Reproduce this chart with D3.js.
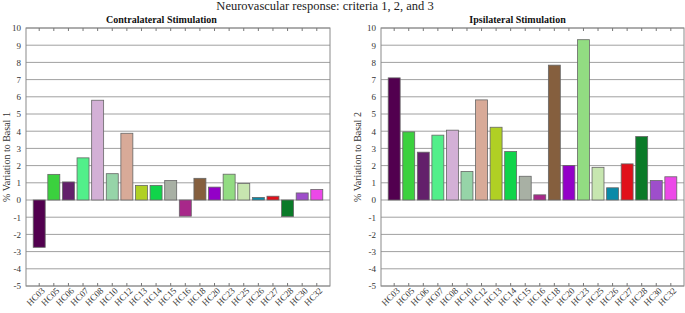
<!DOCTYPE html>
<html>
<head>
<meta charset="utf-8">
<script src="https://cdn.jsdelivr.net/npm/d3@7"></script>
<style>
  body { margin: 0; background: #fff; }
  text { font-family: "Liberation Serif", "Times New Roman", serif; }
</style>
</head>
<body>
<svg width="685" height="313"></svg>
<script>
const svg = d3.select('svg');

// categories and values
const subjects = ['HC03','HC05','HC06','HC07','HC08','HC10','HC12','HC13','HC14','HC15',
                  'HC16','HC18','HC20','HC23','HC25','HC26','HC27','HC28','HC30','HC32'];
const contralateral = [-2.75, 1.49, 1.05, 2.45, 5.8, 1.53, 3.88, 0.85, 0.85, 1.13,
                       -0.94, 1.26, 0.75, 1.5, 0.96, 0.15, 0.22, -0.96, 0.41, 0.61];
const ipsilateral = [7.1, 3.96, 2.78, 3.77, 4.06, 1.66, 5.82, 4.23, 2.82, 1.38,
                     0.3, 7.84, 2.01, 9.32, 1.9, 0.71, 2.1, 3.69, 1.13, 1.35];
const barColors = ['#52004f','#3bd13e','#63206b','#52ef8a','#d3b0d6','#96d4a8','#d8aa98','#b0d024','#10d44a','#a8b0a4',
                   '#a8288a','#855f3e','#9300c8','#92dc82','#c7e6b0','#0a8aa8','#e0101a','#0a7a28','#9e4ecb','#ec48e8'];
const yTicks = d3.range(-5, 11);

const mainTitle = 'Neurovascular response: criteria 1, 2, and 3';

svg.append('text')
    .attr('x', 325)
    .attr('y', 10)
    .attr('text-anchor', 'middle')
    .attr('font-size', 12.5)
    .attr('fill', '#222')
    .text(mainTitle);

const drawPanel = (values, opts) => {
    const left = opts.left, right = opts.right;
    const top = 28, bottom = 286;

    const yScale = d3.scaleLinear().domain([-5, 10]).range([bottom, top]);

    // category centres sit a little inside the frame
    const xScale = d3.scaleBand()
        .domain(subjects)
        .range([left + 5.9, right - 5.9])
        .paddingInner(0.18)
        .paddingOuter(0.09);

    const g = svg.append('g');

    // horizontal grid
    g.selectAll('.grid').data(yTicks).enter().append('line')
        .attr('x1', left).attr('x2', right)
        .attr('y1', d => yScale(d)).attr('y2', d => yScale(d))
        .attr('stroke', '#a0a0a0')
        .attr('stroke-width', 1);

    // frame
    g.append('rect')
        .attr('x', left).attr('y', top)
        .attr('width', right - left).attr('height', bottom - top)
        .attr('fill', 'none')
        .attr('stroke', '#8a8a8a');

    // y axis labels (plain hyphen for negatives, like the original)
    const yAxis = d3.axisLeft(yScale)
        .tickValues(yTicks)
        .tickFormat(d => String(d))
        .tickSize(0)
        .tickPadding(5);
    const yAxisG = g.append('g')
        .attr('transform', `translate(${left},0)`)
        .call(yAxis);
    yAxisG.select('.domain').remove();
    yAxisG.selectAll('text')
        .attr('font-family', '"Liberation Serif", serif')
        .attr('font-size', 9)
        .attr('fill', '#333');

    // bars
    g.selectAll('.bar').data(subjects).enter().append('rect')
        .attr('x', d => xScale(d))
        .attr('width', xScale.bandwidth())
        .attr('y', (d, i) => yScale(Math.max(0, values[i])))
        .attr('height', (d, i) => Math.abs(yScale(values[i]) - yScale(0)))
        .attr('fill', (d, i) => barColors[i])
        .attr('stroke', '#666')
        .attr('stroke-width', 0.8);

    // tick marks on top and bottom edges, pointing inward
    const topAxis = d3.axisTop(xScale).tickSize(-3).tickFormat('');
    const topG = g.append('g').attr('transform', `translate(0,${top})`).call(topAxis);
    topG.select('.domain').remove();
    topG.selectAll('line').attr('stroke', '#777');

    const xAxis = d3.axisBottom(xScale).tickSize(-3).tickPadding(6);
    const xAxisG = g.append('g').attr('transform', `translate(0,${bottom})`).call(xAxis);
    xAxisG.select('.domain').remove();
    xAxisG.selectAll('line').attr('stroke', '#777');
    xAxisG.selectAll('text')
        .attr('font-family', '"Liberation Serif", serif')
        .attr('font-size', 9)
        .attr('fill', '#333')
        .attr('text-anchor', 'end')
        .attr('dy', 0)
        .attr('transform', 'translate(2,1) rotate(-45)');

    // panel title
    g.append('text')
        .attr('x', opts.titleX)
        .attr('y', 23)
        .attr('text-anchor', 'middle')
        .attr('font-size', 10)
        .attr('font-weight', 'bold')
        .attr('fill', '#111')
        .text(opts.title);

    // y axis title
    g.append('text')
        .attr('transform', `translate(${opts.labelX},157) rotate(-90)`)
        .attr('text-anchor', 'middle')
        .attr('font-size', 10)
        .attr('fill', '#333')
        .text(opts.yLabel);
};

drawPanel(contralateral, {
    left: 26, right: 330, titleX: 161.5, labelX: 10,
    title: 'Contralateral Stimulation', yLabel: '% Variation to Basal 1'
});
drawPanel(ipsilateral, {
    left: 381, right: 684, titleX: 517.5, labelX: 361,
    title: 'Ipsilateral Stimulation', yLabel: '% Variation to Basal 2'
});
</script>
</body>
</html>
